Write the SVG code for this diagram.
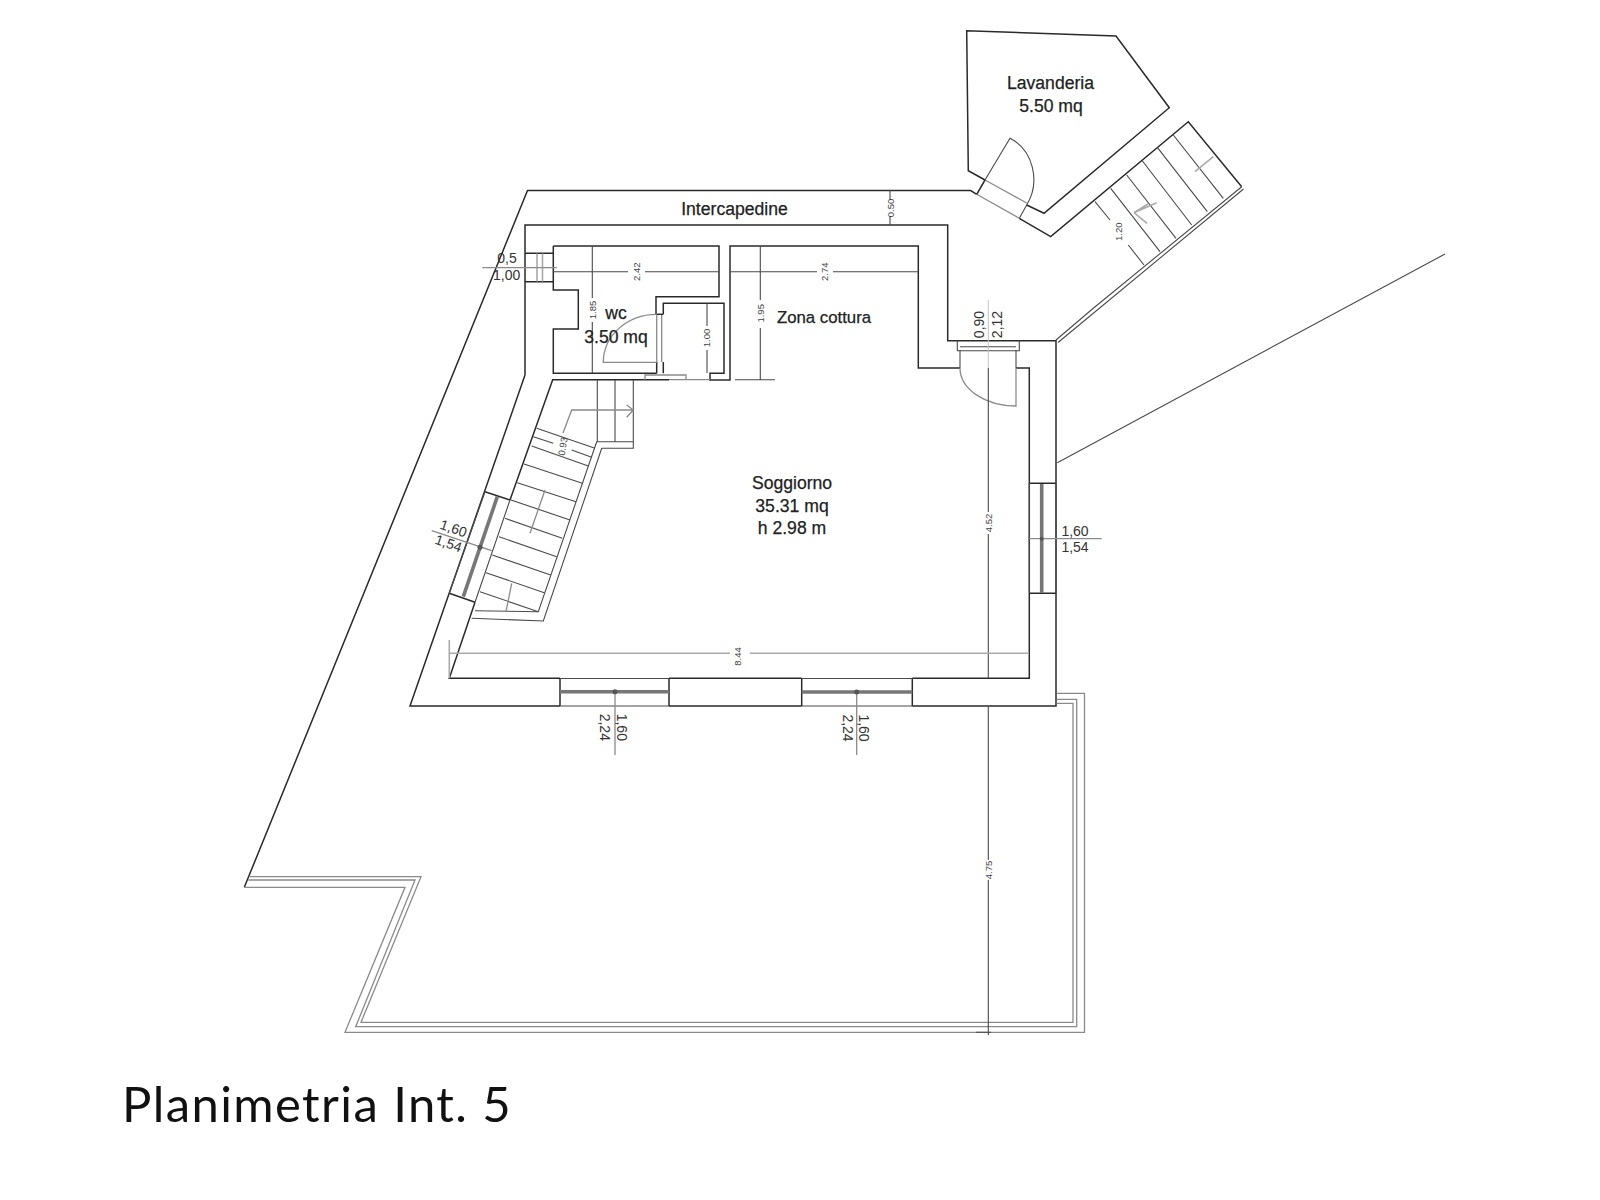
<svg xmlns="http://www.w3.org/2000/svg" width="1600" height="1200" viewBox="0 0 1600 1200">
<style>
.w{fill:none;stroke:#2a2a2a;stroke-width:1.5}
.t{fill:none;stroke:#4a4a4a;stroke-width:1.1}
.g{fill:none;stroke:#8a8a8a;stroke-width:1.3}
.l{fill:none;stroke:#aaa;stroke-width:1.6}
.f{fill:none;stroke:#c4c4c4;stroke-width:1}
.gl{fill:none;stroke:#777;stroke-width:3.6}
text{font-family:"Liberation Sans",Arial,sans-serif;fill:#222}
.r{font-size:17.6px;text-anchor:middle;stroke:#222;stroke-width:.25}
.d{font-size:14px;text-anchor:middle;fill:#333}
.s{font-size:9.5px;text-anchor:middle;fill:#444}
.title{font-family:"Lato",sans-serif;font-size:49px;fill:#111;letter-spacing:1.4px}
</style>
<rect width="1600" height="1200" fill="#fff"/>
<g id="walls">
<path class="w" d="M244.3 887.3L527.5 190.5H970.7L976.7 194.3"/>
<path class="w" d="M525 375V225H947.7V340.7H1056V706H912.3M801.7 706H669M560 706H410L525 375"/>
<path class="w" d="M525 253.3H553.3M525 281.7H553.3"/>
<path class="w" d="M553.3 246H719V296.7H656V314.3M656.7 362V373.3M663.3 362V373.3M663.3 314.3V303.3H724V373.3H710V380H730V246H918.3V368H960M1016 368H1029.3V678.3H912.3M801.7 678.3H669M560 678.3H449.3L475 602.3M510 500L552.7 379.7H669"/>
<path class="w" d="M553.3 246V290H578.3V329H553.3V373.3H656.7"/>
<path class="g" d="M656.7 314.3V362M661.7 314.3V362"/>
<path class="w" d="M656.7 314.3H663.3"/>
<path class="g" d="M645 379.7V375H686V379.7M669 379.7H710"/>
</g>
<g id="windows">
<path class="w" d="M560 678V706M669 678V706M801.7 678V706M912.3 678V706M1029.3 483.3H1056M1029.3 593.3H1056M485 491.7L510 500M449.3 593.3L475 602.3"/>
<path class="t" d="M560 706H669M801.7 706H912.3M560 678.5H669M801.7 678.5H912.3M1056 483V593M1029.3 483V593M485 491.7L449.3 593.3M510 500L475 602.3"/>
<path class="gl" d="M560 691.7H669M801.7 692H912.3M1041.7 484V593M497.3 496.7L463.3 596.7"/>
<path class="l" d="M537 253.5V281.5M542.5 253.5V281.5"/>
<path class="t" d="M957.3 340.7V350.7H1019.3V340.7M960 346.7H1016M960 350V368M1016 350V368"/>
</g>
<g id="doors">
<path class="g" d="M656.7 314.3A53.4 48 0 0 0 603.3 362.3H656.7"/>
<path class="g" d="M1016 368V406A56 38 0 0 1 960 368"/>
<path class="t" d="M985 180L1010 138.3A40 45 0 0 1 1026.7 205L1019.3 218.3"/>
<path class="g" d="M985 180L1026.7 203M976.7 194.3L1019.3 218.3"/>
<path class="w" d="M976.7 194.3L985 180"/>
</g>
<g id="lavanderia">
<path class="w" d="M985 180L968.3 170.7L966.7 30.7L1116 36L1169.3 107.7L1044 213.3L1026.7 205"/>
<path class="w" d="M1019.3 218.3L1050.7 236.7L1188.3 121.7L1241.7 186.7"/>
<path class="t" d="M1241.7 186.7L1093.3 308.3L1056 340M1243.5 189L1058 342.5"/>
<path class="t" d="M1057.3 462.7L1445 254"/>
</g>
<g id="external-stairs">
<path class="t" d="M1173.3 135L1223.3 198.3M1157.3 147.3L1207.3 211.7M1141.7 160L1191.7 225M1126.7 175L1176 238.3M1110.7 188.3L1160 251.7M1095 201.7L1110 220M1128.3 245L1144 265"/>
<path class="l" d="M1213.3 156.7L1195 171.7M1156.7 202.7L1134 212.7M1134 212.7L1148 204M1134 212.7L1147 223.3" stroke-width="1.3"/>
</g>
<g id="internal-stairs">
<path class="t" d="M536.7 428.3L595 448.3M531.7 446L588.3 466M524 464L582.3 483.3M517.3 482.7L576 501.7M511 500L570 520M505 518.3L562.3 538.3M499 536.7L556.7 556.7M492.3 555L550.7 575M486 572.7L544.3 592.7M480 591.7L538.3 611.7"/>
<path class="t" d="M533.3 436.7L553.3 443.3M571.7 450L591.7 457.3"/>
<path class="t" d="M596.7 441.7L538.3 611.7L475 610.7M601.7 448.3L543.3 621L471.7 618.3M596.7 441.7H633.3M601.7 448.3H633.3V380M597.3 380V441.7M615 380V441.7"/>
<path class="g" d="M545 490L530 533.3M511.7 583.3L506 611.7M563 433L571.7 410H633.3M626.7 405L633.3 410L626.7 417.3"/>
</g>
<g id="terrace">
<path class="g" d="M244.3 887.3H405L345 1032.3H1084.5V693.3H1056.7"/>
<path class="g" d="M248.3 880H415L355.7 1026.7H1076.7V699.3H1056.7"/>
<path class="g" d="M250 876.7H421L361 1022.3H1073V703.3H1056.7"/>
</g>
<g id="dimensions">
<path class="t" d="M553.3 271.7H628M645 271.7H719M730 271.7H817M833 271.7H918.3"/>
<path class="t" d="M592.3 246V298M592.3 322V373M707 303.3V326M707 350V373M760.3 246V300M760.3 328V380M735 379.7H775"/>
<path class="t" d="M890 190.5V200M890 216V225"/>
<path class="f" d="M988.3 300V368"/>
<path class="t" d="M988.3 368V512M988.3 534V678.3M988.3 706V860M988.3 880V1035M976 1032.3H991"/>
<path class="l" d="M449.3 653.3H730M750 653.3H1029M449.3 640V678.3"/>
<path class="g" d="M482.3 267.7H556.7M1029.3 538.7H1101.7M431.7 530.7L491.7 550.7M615 691V755M856.7 692V755"/>
<circle cx="615" cy="691.7" r="2.5" fill="#555"/>
<circle cx="856.7" cy="692" r="2.5" fill="#555"/>
<circle cx="480" cy="547.3" r="2.5" fill="#555"/>
<circle cx="1041.7" cy="538.7" r="2" fill="#555"/>
<g class="labels">
<text class="s" transform="translate(639.5 271.7) rotate(-90)">2.42</text>
<text class="s" transform="translate(827.5 271.7) rotate(-90)">2.74</text>
<text class="s" transform="translate(595.5 310) rotate(-90)">1.85</text>
<text class="s" transform="translate(763.5 313.3) rotate(-90)">1.95</text>
<text class="s" transform="translate(710 338) rotate(-90)">1.00</text>
<text class="s" transform="translate(893.5 208) rotate(-90)">0.50</text>
<text class="s" transform="translate(1122 231.7) rotate(-90)">1.20</text>
<text class="s" transform="translate(991.5 523) rotate(-90)">4.52</text>
<text class="s" transform="translate(991.5 870) rotate(-90)">4.75</text>
<text class="s" transform="translate(741 656.5) rotate(-90)">8.44</text>
<text class="s" transform="translate(566 447) rotate(-80)">0.93</text>
<text class="d" x="507" y="263.3">0,5</text>
<text class="d" x="506.7" y="280">1,00</text>
<text class="d" x="1075" y="535.5">1,60</text>
<text class="d" x="1075" y="551.5">1,54</text>
<text class="d" transform="translate(452 533) rotate(19)">1,60</text>
<text class="d" transform="translate(447 548) rotate(19)">1,54</text>
<text class="d" transform="translate(616.7 727.3) rotate(90)">1,60</text>
<text class="d" transform="translate(600 727.3) rotate(90)">2,24</text>
<text class="d" transform="translate(859.3 728) rotate(90)">1,60</text>
<text class="d" transform="translate(842.7 728) rotate(90)">2,24</text>
<text class="d" transform="translate(984 324.5) rotate(-90)">0,90</text>
<text class="d" transform="translate(1001.5 324.5) rotate(-90)">2,12</text>
</g>
</g>
<g id="room-labels">
<text class="r" x="734.5" y="215">Intercapedine</text>
<text class="r" x="1050.5" y="89">Lavanderia</text>
<text class="r" x="1051" y="111.7">5.50 mq</text>
<text class="r" x="616" y="319">wc</text>
<text class="r" x="616" y="343.3">3.50 mq</text>
<text class="r" x="824" y="322.7" style="font-size:16.8px">Zona cottura</text>
<text class="r" x="792" y="489">Soggiorno</text>
<text class="r" x="792" y="511.7">35.31 mq</text>
<text class="r" x="792" y="534.3">h 2.98 m</text>
</g>
<text class="title" x="122" y="1121.7">Planimetria Int. 5</text>
</svg>
